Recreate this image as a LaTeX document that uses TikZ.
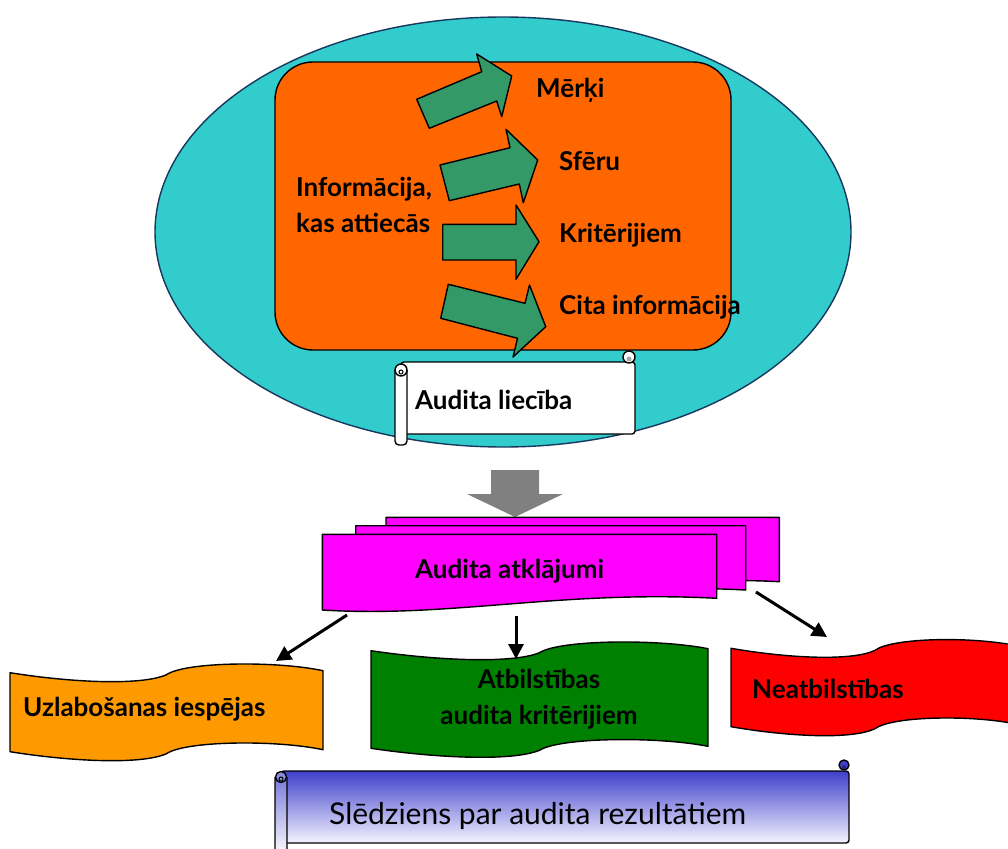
\documentclass[tikz,border=0pt]{standalone}
\usepackage{fontspec}
\setmainfont{Lato}
\usetikzlibrary{arrows.meta}

\definecolor{ovalfill}{HTML}{33CCCC}
\definecolor{ovalline}{HTML}{17375E}
\definecolor{boxorange}{HTML}{FF6600}
\definecolor{arrowgreen}{HTML}{339966}
\definecolor{blockgrey}{HTML}{808080}
\definecolor{docmagenta}{HTML}{FF00FF}
\definecolor{waveorange}{HTML}{FF9900}
\definecolor{wavegreen}{HTML}{008000}
\definecolor{wavered}{HTML}{FF0000}
\definecolor{scrollblue}{HTML}{4040CC}
\definecolor{scrollpale}{HTML}{F4F4FF}

% banner with a wavy top and bottom edge: style, left, right, top, height
\newcommand{\wavebanner}[5]{%
  \draw[#1] (#2,#4)
    .. controls ({#2+0.2*(#3-#2)},{#4+10}) and ({#2+0.42*(#3-#2)},{#4+13}) .. ({#2+0.5*(#3-#2)},{#4+2})
    .. controls ({#2+0.56*(#3-#2)},{#4-11}) and ({#2+0.85*(#3-#2)},{#4-12}) .. (#3,{#4-2})
    -- (#3,{#4-2+#5})
    .. controls ({#2+0.85*(#3-#2)},{#4-12+#5}) and ({#2+0.56*(#3-#2)},{#4-11+#5}) .. ({#2+0.5*(#3-#2)},{#4+2+#5})
    .. controls ({#2+0.42*(#3-#2)},{#4+13+#5}) and ({#2+0.2*(#3-#2)},{#4+10+#5}) .. (#2,{#4+#5})
    -- cycle;}

\begin{document}
\begin{tikzpicture}[x=1pt,y=-1pt,
  outline/.style={draw=black,line width=1.4pt,line join=round},
  bigarrow/.style={outline,fill=arrowgreen},
  doc/.style={outline,fill=docmagenta},
  lbl/.style={inner sep=0pt,font=\fontsize{26}{36}\selectfont\bfseries},
  conn/.style={draw=black,line width=3pt,-{Triangle[length=15pt,width=15pt]}},
]
\useasboundingbox (0,0) rectangle (1008,848);
\clip (0,0) rectangle (1008,848);

% oval and inner box
\draw[fill=ovalfill,draw=ovalline,line width=1.4pt] (503,232) ellipse [x radius=348, y radius=215];
\draw[outline,fill=boxorange,rounded corners=38pt] (275,62) rectangle (731,350);

% block arrows
\draw[bigarrow] (416.7,99.3) -- (481.7,71.7) -- (476.7,54) -- (511.7,76) -- (501.7,116.7) -- (496.7,101) -- (429.3,128.3) -- cycle;
\draw[bigarrow] (440,165) -- (510,147.7) -- (506,129.3) -- (537.7,160) -- (523.3,202.7) -- (519.3,184) -- (449.3,200.7) -- cycle;
\draw[bigarrow] (442.7,224.3) -- (516,224.3) -- (516,205) -- (539,241.7) -- (516,279.3) -- (516,260) -- (442.7,260) -- cycle;
\draw[bigarrow] (448.3,284.3) -- (525,303.3) -- (529.5,285) -- (545.7,326.7) -- (513,357) -- (517.5,338.3) -- (440.7,318.3) -- cycle;

\node[lbl,anchor=base west] (info) at (296,196.7)
  {\begin{tabular}[t]{@{}l@{}}Informācija,\\kas attiecās\end{tabular}};
\node[lbl,anchor=base west] (merki) at (536,98) {Mērķi};
\node[lbl,anchor=base west] (sferu) at (559,170) {Sfēru};
\node[lbl,anchor=base west] (krit) at (559,242.7) {Kritērijiem};
\node[lbl,anchor=base west] (cita) at (559,314) {Cita informācija};

% scroll: audit evidence
\draw[outline,fill=white,rounded corners=3pt] (401,362) -- (635,362) -- (635,434) -- (401,434) -- cycle;
\draw[outline,fill=white] (629,357) circle [radius=6];
\fill[gray!70] (629,359) circle [radius=2.5];
\draw[outline,fill=white,rounded corners=4pt] (395,370) -- (395,445) -- (407,445) -- (407,370);
\draw[outline,fill=white] (401,370) circle [radius=6];
\draw[black,line width=1pt] (401,372) circle [radius=2];
\node[lbl,anchor=base west] (evid) at (415,409.3) {Audita liecība};

% grey block arrow down
\draw[fill=blockgrey,draw=none] (491,470) -- (539,470) -- (539,494) -- (563,494) -- (515,517) -- (467,494) -- (491,494) -- cycle;

% stacked documents: findings
\draw[doc] (386,517.3) -- (779.3,517.3) -- (779.3,581.7) .. controls (622,574) and (516,600) .. (386,594) -- cycle;
\draw[doc] (355.7,525.7) -- (745.7,525.7) -- (745.7,590) .. controls (590,582) and (484,608) .. (355.7,602) -- cycle;
\draw[doc] (322.3,534.3) -- (716.7,534.3) -- (716.7,598.3) .. controls (560,590) and (450,618) .. (322.3,610) -- cycle;
\node[lbl,anchor=base west] (find) at (415,578.3) {Audita atklājumi};

% result banners
\wavebanner{outline,fill=waveorange}{10}{323}{672.7}{79}
\wavebanner{outline,fill=wavegreen}{371}{708}{650.7}{97.6}
\wavebanner{outline,fill=wavered}{731}{1019}{648.3}{78.4}
\node[lbl,anchor=base west] (impr) at (23,716) {Uzlabošanas iespējas};
\node[lbl,anchor=base] (comp) at (539,688.3)
  {\begin{tabular}[t]{@{}c@{}}Atbilstības\\audita kritērijiem\end{tabular}};
\node[lbl,anchor=base west] (noncomp) at (752,698.3) {Neatbilstības};

% connectors
\coordinate (f1) at (347,615);
\coordinate (f2) at (516,616);
\coordinate (f3) at (756,592);
\coordinate (t1) at (276,661);
\coordinate (t2) at (516,659);
\coordinate (t3) at (827,637);
\draw[conn] (f1) -- (t1);
\draw[conn] (f2) -- (t2);
\draw[conn] (f3) -- (t3);

% scroll: conclusion
\draw[outline,top color=scrollblue,bottom color=scrollpale,rounded corners=3pt] (281,771) -- (849,771) -- (849,843) -- (281,843) -- cycle;
\draw[outline,fill=scrollblue] (844,765) circle [radius=5];
\fill[scrollblue!60!black] (844,767) circle [radius=2];
\draw[outline,top color=scrollblue!70,bottom color=white,rounded corners=4pt] (275,777) -- (275,856) -- (287,856) -- (287,777);
\draw[outline,fill=scrollblue!60] (281,777) circle [radius=5.5];
\draw[black,line width=1pt] (281,779) circle [radius=2];
\node[inner sep=0pt,anchor=base west,font=\fontsize{30}{36}\selectfont] (concl) at (329,824) {Slēdziens par audita rezultātiem};
\end{tikzpicture}
\end{document}
